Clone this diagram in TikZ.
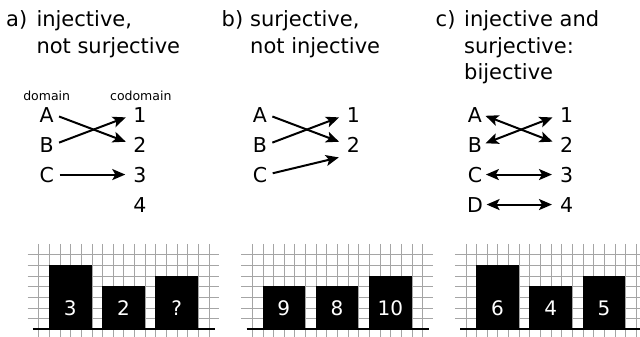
\documentclass[tikz,border=0pt]{standalone}
\usepackage{fontspec}
\setmainfont{DejaVu Sans}
\usetikzlibrary{arrows.meta}
\definecolor{gridgray}{RGB}{165,165,165}
\tikzset{
  title/.style={font=\fontsize{21}{25}\selectfont, anchor=base west, inner sep=0pt},
  lbl/.style={font=\fontsize{20.5}{24}\selectfont, anchor=base, inner sep=0pt, text height=14.9pt, text depth=0pt},
  small/.style={font=\fontsize{12.5}{15}\selectfont, anchor=base, inner sep=0pt},
  barnum/.style={font=\fontsize{20}{24}\selectfont, anchor=base, inner sep=0pt, text=white},
  gridline/.style={draw=gridgray, line width=1pt},
  axisline/.style={draw=black, line width=2pt},
  tip/.tip={Stealth[length=13pt,width=11pt,inset=3pt]},
  arr/.style={line width=2pt, -tip, shorten <=5.5pt, shorten >=8pt},
  biarr/.style={line width=2pt, tip-tip, shorten <=3.5pt, shorten >=8pt},
}
\def\cell{10.65}
\def\bse{329}
\newcommand\mygrid[1]{%
  \foreach \k in {1,...,7} {%
    \pgfmathsetmacro\yy{round(\bse-\k*\cell)+0.5}
    \draw[gridline] ({#1-\cell},\yy) -- ({#1+17*\cell},\yy);}
  \foreach \i in {0,...,16} {%
    \pgfmathsetmacro\xx{round(#1+\i*\cell)+0.5}
    \draw[gridline] (\xx,{\bse-8*\cell}) -- (\xx,340);}
}
\newcommand\myaxis[1]{\draw[axisline] ({#1-0.5*\cell},\bse) -- ({#1+16.6*\cell},\bse);}
\newcommand\mybar[5]{%
  \fill[black] ({round(#1+(1+5*#2)*\cell)},\bse) rectangle ({round(#1+(5+5*#2)*\cell)},{round(\bse-#3*\cell)});
  \node[barnum] (#5) at ({#1+(3+5*#2)*\cell},315.3) {#4};
}
\begin{document}
\begin{tikzpicture}[x=1pt,y=-1pt]
\useasboundingbox (0,0) rectangle (640,337);
\clip (0,0) rectangle (640,337);
% titles
\node[title] (ta0) at (6,27) {a)};
\node[title] (ta1) at (36.3,27) {injective,};
\node[title] (ta2) at (36.3,53.5) {not surjective};
\node[title] (tb0) at (221.5,27) {b)};
\node[title] (tb1) at (250,27) {surjective,};
\node[title] (tb2) at (250,53.5) {not injective};
\node[title] (tc0) at (435.5,27) {c)};
\node[title] (tc1) at (464,27) {injective and};
\node[title] (tc2) at (464,53.5) {surjective:};
\node[title] (tc3) at (464,80) {bijective};
% panel a mapping
\node[small] (dom) at (46.7,100) {domain};
\node[small] (cod) at (140.8,100) {codomain};
\node[lbl] (aA) at (46.7,122) {A};
\node[lbl] (aB) at (46.7,152) {B};
\node[lbl] (aC) at (46.7,182) {C};
\node[lbl] (a1) at (140,122) {1};
\node[lbl] (a2) at (140,152) {2};
\node[lbl] (a3) at (140,182) {3};
\node[lbl] (a4) at (140,212) {4};
\draw[arr] (aA.east) -- (a2.west);
\draw[arr] (aB.east) -- (a1.west);
\draw[arr] (aC.east) -- (a3.west);
% panel b mapping
\node[lbl] (bA) at (260,122) {A};
\node[lbl] (bB) at (260,152) {B};
\node[lbl] (bC) at (260,182) {C};
\node[lbl] (b1) at (353.3,122) {1};
\node[lbl] (b2) at (353.3,152) {2};
\draw[arr] (bA.east) -- (b2.west);
\draw[arr] (bB.east) -- (b1.west);
\draw[arr] (bC.east) -- ([yshift=-11pt]b2.west);
% panel c mapping
\node[lbl] (cA) at (475,122) {A};
\node[lbl] (cB) at (475,152) {B};
\node[lbl] (cC) at (475,182) {C};
\node[lbl] (cD) at (475,212) {D};
\node[lbl] (c1) at (566.7,122) {1};
\node[lbl] (c2) at (566.7,152) {2};
\node[lbl] (c3) at (566.7,182) {3};
\node[lbl] (c4) at (566.7,212) {4};
\draw[biarr] (cA.east) -- (c2.west);
\draw[biarr] (cB.east) -- (c1.west);
\draw[biarr] (cC.east) -- (c3.west);
\draw[biarr] (cD.east) -- (c4.west);
% grids and bars
\mygrid{38.3}
\mygrid{251.9}
\mygrid{465.5}
\mybar{38.3}{0}{6}{3}{na1}
\mybar{38.3}{1}{4}{2}{na2}
\mybar{38.3}{2}{5}{?}{na3}
\mybar{251.9}{0}{4}{9}{nb1}
\mybar{251.9}{1}{4}{8}{nb2}
\mybar{251.9}{2}{5}{10}{nb3}
\mybar{465.5}{0}{6}{6}{nc1}
\mybar{465.5}{1}{4}{4}{nc2}
\mybar{465.5}{2}{5}{5}{nc3}
\myaxis{38.3}
\myaxis{251.9}
\myaxis{465.5}
\end{tikzpicture}
\end{document}
